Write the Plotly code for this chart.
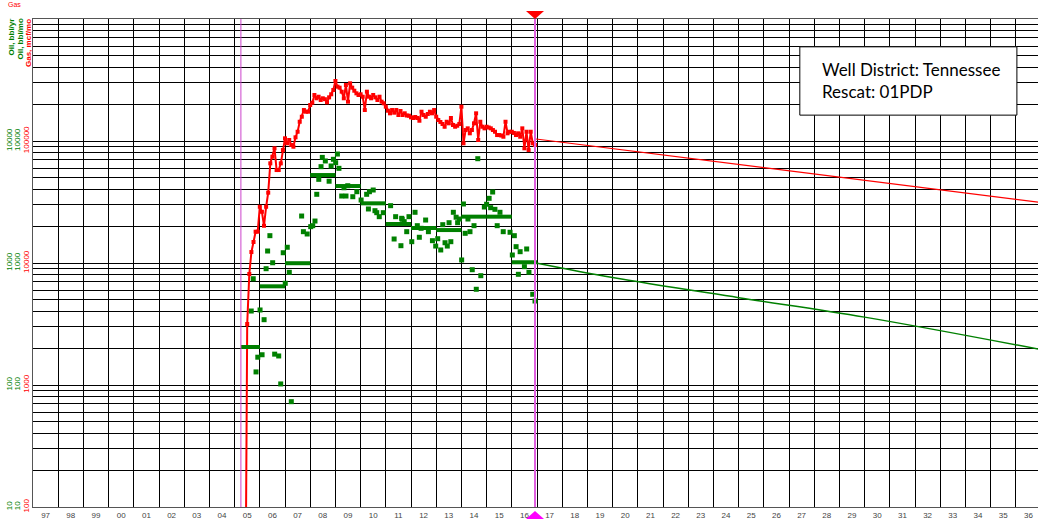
import numpy as np
import plotly.graph_objects as go

OIL_GREEN = "#008000"
GAS_RED = "#ff0000"
MAGENTA = "#ff00ff"

# x axis: calendar years, labels drawn in the middle of each year
years = list(range(1997, 2037))
year_labels = [f"{y % 100:02d}" for y in years]

# Gas, mcf/mo - monthly, starting June 2005
gas_start = 2005 + 5 / 12
gas_mcf_mo = [
    5, 3162, 8128, 12300, 14860, 18060, 18060,
    28900, 26300, 20200, 28900, 37700, 65600, 74300, 87100, 57800, 57800, 65600, 84300,
    105200, 95700, 101900, 92700, 89800, 107200, 119100, 143800, 158100, 179400, 173800, 173800,
    197200, 206000, 238300, 223900, 230700, 216800, 223900, 220000, 207500, 228000, 241500, 261800,
    310400, 278800, 273600, 253600, 223900, 287700, 210000, 297100, 273600, 258300, 245900, 238300,
    241500, 230700, 179400, 253600, 230700, 223900, 238300, 228000, 216800, 230700, 210000, 203700,
    191100, 177100, 168600, 179400, 170600, 179400, 163300, 176200, 163300, 168600, 161800, 161200,
    156300, 154400, 157400, 154400, 146600, 173800, 163300, 158100, 166400, 173800, 168600, 179400,
    158100, 148500, 143200, 137800, 130900, 143800, 139600, 154400, 135200, 130900, 133400, 137800,
    191100, 95700, 123000, 127000, 115600, 123000, 139600, 168600, 101900, 143800, 130900, 127000,
    130900, 129000, 127000, 123000, 119100, 111900, 111900, 110900, 108400, 143800, 115600, 119100,
    119100, 116400, 111900, 115600, 108400, 127000, 87100, 119100, 84300, 119100, 95700, 92700,
]
gas_x = gas_start + np.arange(len(gas_mcf_mo)) / 12

# Gas forecast, mcf/mo
gas_fc_x = [2016.96, 2037.0]
gas_fc = [103800, 31260]

# Oil, bbl/mo - monthly tests (decimal year, value)
oil_x = [
    2005.66, 2005.74, 2005.85, 2005.92, 2006.01, 2006.09, 2006.17, 2006.25, 2006.31, 2006.40,
    2006.51, 2006.59, 2006.75, 2006.83, 2006.93, 2007.01, 2007.09, 2007.17, 2007.25, 2007.66,
    2007.73, 2007.88, 2008.02, 2008.10, 2008.19, 2008.26, 2008.34, 2008.43, 2008.48, 2008.60,
    2008.75, 2008.83, 2008.92, 2009.01, 2009.08, 2009.14, 2009.25, 2009.34, 2009.42, 2009.49,
    2009.69, 2009.85, 2010.02, 2010.24, 2010.31, 2010.35, 2010.50, 2010.57, 2010.64, 2010.74,
    2010.90, 2011.19, 2011.33, 2011.39, 2011.60, 2011.63, 2011.65, 2011.73, 2011.83, 2011.92,
    2012.03, 2012.16, 2012.25, 2012.33, 2012.40, 2012.58, 2012.69, 2012.85, 2012.98, 2013.06,
    2013.18, 2013.26, 2013.35, 2013.44, 2013.51, 2013.58, 2013.68, 2013.79, 2013.85, 2013.92,
    2014.01, 2014.08, 2014.15, 2014.26, 2014.34, 2014.43, 2014.50, 2014.59, 2014.65, 2014.77,
    2014.91, 2015.00, 2015.10, 2015.16, 2015.24, 2015.33, 2015.42, 2015.53, 2015.66, 2015.93,
    2016.02, 2016.10, 2016.17, 2016.26, 2016.33, 2016.50, 2016.59, 2016.68, 2016.83, 2016.92,
]
oil_bbl_mo = [
    404, 743, 128, 169, 412, 177, 343, 898, 1254, 1675,
    1005, 179, 173, 102, 1214, 682, 1346, 839, 73, 2427,
    1806, 1729, 1985, 2023, 2208, 3657, 4850, 6160, 7340, 6860,
    4680, 6240, 7080, 6640, 7820, 5970, 3540, 4140, 3540, 4300,
    3494, 3840, 3283, 3657, 2772, 3840, 3965, 2684, 2585, 2397,
    2585, 2950, 1573, 2397, 1386, 2325, 2282, 2182, 1806, 2397,
    1495, 2604, 2023, 1625, 1925, 2250, 1806, 1524, 1377, 1582,
    1279, 2061, 1466, 1377, 2140, 1495, 2604, 2373, 2140, 2294,
    1059, 3046, 1751, 2294, 1806, 881, 2023, 609, 7160, 787,
    2877, 3030, 3390, 2840, 3818, 2754, 2023, 2604, 1806, 1786,
    1163, 1675, 1361, 808, 1238, 933, 1303, 839, 554, 488,
]

# Oil yearly averages
avg_years = [2005, 2006, 2007, 2008, 2009, 2010, 2011, 2012, 2013, 2014, 2015, 2016]
oil_avg = [205, 644, 996, 5260, 4275, 3084, 2089, 1936, 1862, 2398, 2398, 1014]

# Oil forecast
oil_fc_x = [2016.96, 2020.0, 2025.0, 2030.0, 2037.0]
oil_fc = [1000, 760, 520, 360, 195]

prod_start = 2005.25
forecast_start = 2016.92

bar_x, bar_y = [], []
for yr, v in zip(avg_years, oil_avg):
    bar_x += [max(yr, prod_start), yr + 1, None]
    bar_y += [v, v, None]

fig = go.Figure()
fig.add_trace(go.Scatter(
    x=oil_x, y=oil_bbl_mo, mode="markers", name="Oil",
    marker=dict(symbol="square", size=5, color=OIL_GREEN),
))
fig.add_trace(go.Scatter(
    x=bar_x, y=bar_y, mode="lines", name="Oil avg", yaxis="y3",
    line=dict(color=OIL_GREEN, width=4),
))
fig.add_trace(go.Scatter(
    x=oil_fc_x, y=oil_fc, mode="lines", name="Oil forecast",
    line=dict(color=OIL_GREEN, width=1.5, shape="spline"),
))
fig.add_trace(go.Scatter(
    x=gas_x, y=gas_mcf_mo, mode="lines+markers", name="Gas", yaxis="y2",
    line=dict(color=GAS_RED, width=2),
    marker=dict(symbol="square", size=4, color=GAS_RED),
))
fig.add_trace(go.Scatter(
    x=gas_fc_x, y=gas_fc, mode="lines", name="Gas forecast", yaxis="y2",
    line=dict(color=GAS_RED, width=1.2),
))

fig.add_vline(x=prod_start, line=dict(color="#cc44cc", width=1))
fig.add_vline(x=forecast_start, line=dict(color="#e060e0", width=2))

# forecast start markers above and below the grid
fig.add_shape(type="path", xref="x", yref="paper", xsizemode="pixel", ysizemode="pixel",
              xanchor=forecast_start, yanchor=1,
              path="M -9 8 L 9 8 L 0 0 Z", fillcolor=GAS_RED, line=dict(width=0))
fig.add_shape(type="path", xref="x", yref="paper", xsizemode="pixel", ysizemode="pixel",
              xanchor=forecast_start, yanchor=0,
              path="M -9 -12 L 9 -12 L 0 -4 Z", fillcolor=MAGENTA, line=dict(width=0))

grid_minor = [m * 10 ** d for d in range(1, 6) for m in range(2, 10)]
tick_font = dict(family="Liberation Sans", size=8)

fig.update_layout(
    width=1038, height=519,
    margin=dict(l=33, r=0, t=19, b=12),
    plot_bgcolor="white", paper_bgcolor="white",
    showlegend=False,
    xaxis=dict(
        range=[1997, 2036.88], automargin=False,
        tickmode="array",
        tickvals=[y + 0.5 for y in years],
        ticktext=year_labels,
        tickfont=dict(tick_font, color="#444444"),
        ticks="", showgrid=False, zeroline=False,
        minor=dict(tickvals=years + [2037], showgrid=True, gridcolor="black", gridwidth=1),
        showline=True, linecolor="#555555", linewidth=1, mirror=True,
        ticklabelstandoff=0,
    ),
    yaxis=dict(
        type="log", range=[1, 5], automargin=False,
        tickvals=[10, 100, 1000, 10000],
        ticktext=["10", "100", "1000", "10000"],
        tickangle=-90, tickfont=dict(tick_font, color=OIL_GREEN),
        ticks="", gridcolor="black", gridwidth=1,
        minor=dict(tickvals=grid_minor, showgrid=True, gridcolor="black", gridwidth=1),
        showline=True, linecolor="#555555", linewidth=1, mirror=True,
        ticklabelstandoff=9,
    ),
    yaxis2=dict(
        type="log", range=[2, 6], overlaying="y", side="left", anchor="x", automargin=False,
        tickvals=[100, 1000, 10000, 100000],
        ticktext=["100", "1000", "10000", "100000"],
        tickangle=-90, tickfont=dict(tick_font, color=GAS_RED),
        ticks="", showgrid=False, zeroline=False,
        ticklabelstandoff=1,
    ),
    yaxis3=dict(
        type="log", range=[1, 5], overlaying="y", side="left", anchor="x", automargin=False,
        tickvals=[10, 100, 1000, 10000],
        ticktext=["10", "100", "1000", "10000"],
        tickangle=-90, tickfont=dict(tick_font, color=OIL_GREEN),
        ticks="", showgrid=False, zeroline=False,
        ticklabelstandoff=18,
    ),
)

title_font = dict(family="Liberation Sans", size=8)
for text, color, shift in [("Oil, bbl/yr", OIL_GREEN, -22), ("Oil, bbl/mo", OIL_GREEN, -13),
                           ("Gas, mcf/mo", GAS_RED, -5)]:
    fig.add_annotation(text=f"<b>{text}</b>", xref="paper", yref="paper", x=0, y=1,
                       xanchor="center", yanchor="top", xshift=shift, yshift=2,
                       textangle=-90, showarrow=False, font=dict(title_font, color=color))
fig.add_annotation(text="Gas", xref="paper", yref="paper", x=0, y=1, xanchor="left",
                   yanchor="bottom", xshift=-27, yshift=9, showarrow=False,
                   font=dict(family="Liberation Sans", size=7, color=GAS_RED))

# info box
fig.add_shape(type="rect", xref="paper", yref="paper", x0=0.763, x1=0.979, y0=0.803, y1=0.943,
              fillcolor="white", line=dict(color="black", width=1), layer="above")
fig.add_annotation(text="Well District: Tennessee<br>Rescat: 01PDP", xref="paper", yref="paper",
                   x=0.783, y=0.873, xanchor="left", yanchor="middle", align="left",
                   showarrow=False, font=dict(family="Lato", size=17, color="black"))

# the page body has a default 8px margin; drop it so the chart fills the window
fig.write_html("out.html", config=dict(displayModeBar=False),
               post_script="document.body.style.margin='0';document.body.style.overflow='hidden';")
